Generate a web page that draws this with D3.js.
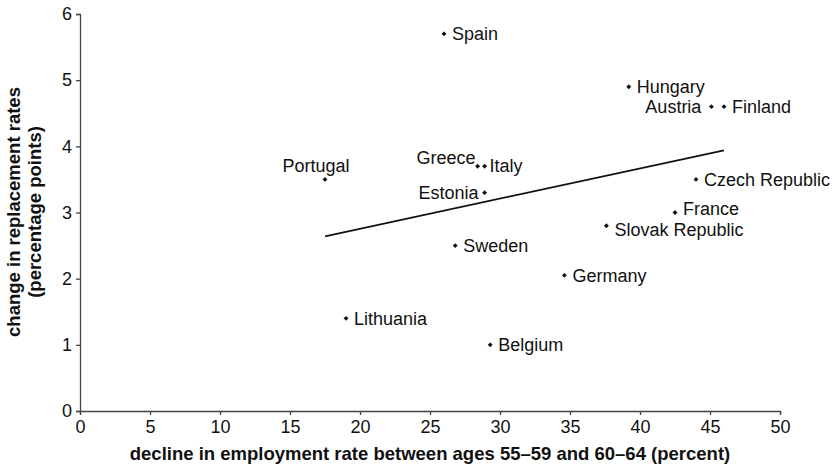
<!DOCTYPE html>
<html lang="en">
<head>
<meta charset="UTF-8"/>
<title>Replacement rates vs employment decline</title>
<script src="https://d3js.org/d3.v7.min.js"></script>
<style>
  body { margin: 0; background: #fff; }
  svg text { font-family: "Liberation Sans", Arial, Helvetica, sans-serif; fill: #111; }
  .tick text { font-size: 18px; }
  .label { font-size: 18px; }
  .title { font-size: 18.5px; font-weight: bold; }
</style>
</head>
<body>
<div id="chart"></div>
<script>

// Data
var countries = ["Spain", "Hungary", "Austria", "Finland", "Greece", "Italy", "Estonia",
                 "Czech Republic", "France", "Slovak Republic", "Portugal", "Sweden",
                 "Germany", "Lithuania", "Belgium"];
var emplDecline = [26.0, 39.2, 45.1, 46.0, 28.4, 28.9, 28.9, 44.0, 42.5, 37.6, 17.5, 26.8, 34.6, 19.0, 29.3];
var replChange  = [5.7, 4.9, 4.6, 4.6, 3.7, 3.7, 3.3, 3.5, 3.0, 2.8, 3.5, 2.5, 2.05, 1.4, 1.0];

// trend line end points
var trendX = [17.5, 46.0];
var trendY = [2.64, 3.94];

var xTicks = [0, 5, 10, 15, 20, 25, 30, 35, 40, 45, 50];
var yTicks = [0, 1, 2, 3, 4, 5, 6];

// where each label sits relative to its dot: [dx, dy, anchor]
var labelPos = {
  "Austria": [-10, 0, "end"],
  "Greece": [-2, -8, "end"],
  "Estonia": [-6, 0, "end"],
  "Portugal": [-9, -14, "middle"],
  "Italy": [5, 0, "start"],
  "France": [8, -4, "start"],
  "Slovak Republic": [8, 4, "start"]
};

var w = 837, h = 466;

var xScale = d3.scaleLinear().domain([0, 50]).range([80, 780]);
var yScale = d3.scaleLinear().domain([0, 6]).range([411, 14]);

var svg = d3.select("#chart")
            .append("svg")
            .attr("width", w)
            .attr("height", h);

// axes
var xAxis = d3.axisBottom(xScale).tickValues(xTicks).tickFormat(d3.format("d"))
              .tickSizeOuter(0).tickSize(4).tickPadding(5);
var yAxis = d3.axisLeft(yScale).tickValues(yTicks).tickFormat(d3.format("d"))
              .tickSizeOuter(0).tickSize(4).tickPadding(4);

var gx = svg.append("g")
            .attr("transform", "translate(0," + yScale(0) + ")")
            .call(xAxis);
var gy = svg.append("g")
            .attr("transform", "translate(" + xScale(0) + ",0)")
            .call(yAxis);

[gx, gy].forEach(function(g) {
  g.selectAll("path, line").attr("stroke", "#444").attr("stroke-width", 1.3);
  g.selectAll("text").attr("fill", "#111").attr("font-family", null).attr("font-size", null);
});

// trend line
svg.append("line")
   .attr("x1", xScale(trendX[0]))
   .attr("y1", yScale(trendY[0]))
   .attr("x2", xScale(trendX[1]))
   .attr("y2", yScale(trendY[1]))
   .attr("stroke", "#111")
   .attr("stroke-width", 1.7);

// points
var diamond = d3.symbol().type(d3.symbolSquare).size(12);

svg.selectAll(".pt")
   .data(countries)
   .enter()
   .append("path")
   .attr("class", "pt")
   .attr("d", diamond)
   .attr("fill", "#111")
   .attr("transform", function(d, i) {
     return "translate(" + xScale(emplDecline[i]) + "," + yScale(replChange[i]) + ") rotate(45)";
   });

// labels
svg.selectAll(".label")
   .data(countries)
   .enter()
   .append("text")
   .attr("class", "label")
   .attr("x", function(d, i) {
     var p = labelPos[d] || [8, 0];
     return xScale(emplDecline[i]) + p[0];
   })
   .attr("y", function(d, i) {
     var p = labelPos[d] || [8, 0];
     return yScale(replChange[i]) + p[1];
   })
   .attr("dy", "0.35em")
   .attr("text-anchor", function(d) {
     var p = labelPos[d];
     return p ? p[2] : "start";
   })
   .text(function(d) { return d; });

// axis titles
svg.append("text")
   .attr("class", "title")
   .attr("x", (xScale(0) + xScale(50)) / 2)
   .attr("y", 460)
   .attr("text-anchor", "middle")
   .text("decline in employment rate between ages 55\u201359 and 60\u201364 (percent)");

var yTitle = svg.append("text")
   .attr("class", "title")
   .attr("transform", "translate(20,212) rotate(-90)")
   .attr("text-anchor", "middle");
yTitle.append("tspan").attr("x", 0).attr("y", 0).text("change in replacement rates");
yTitle.append("tspan").attr("x", 0).attr("y", 21).text("(percentage points)");

</script>
</body>
</html>
